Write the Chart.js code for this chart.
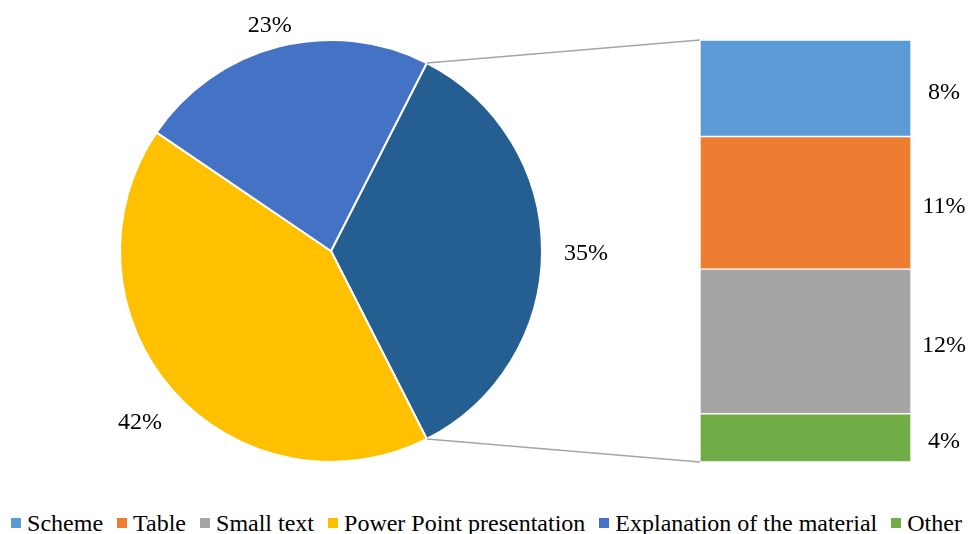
<!DOCTYPE html>
<html>
<head>
<meta charset="utf-8">
<script src="https://cdn.jsdelivr.net/npm/chart.js@4/dist/chart.umd.min.js"></script>
<style>
  html, body { margin: 0; padding: 0; background: #fff; }
  #wrap { position: relative; width: 973px; height: 534px; overflow: hidden;
          font-family: "Liberation Serif", "Times New Roman", serif; }
  #pie { position: absolute; left: 0; top: 0; }
  #bar { position: absolute; left: 700px; top: 40px; }
  #legend { position: absolute; left: 0; top: 508px; width: 973px; display: flex;
            justify-content: center; align-items: center; gap: 14px;
            font-size: 24px; line-height: 30px; color: #000; white-space: nowrap; }
  #legend .item { display: flex; align-items: center; }
  #legend .sw { display: inline-block; width: 10px; height: 10px; margin-right: 6px; }
</style>
</head>
<body>
<div id="wrap">
  <canvas id="pie" width="973" height="500"></canvas>
  <canvas id="bar" width="273" height="423"></canvas>
  <div id="legend"></div>
</div>
<script>
// Main pie categories (the split slice gathers the detail categories shown in the bar)
const pieLabels = ['Power Point presentation', 'Explanation of the material'];
const pieValues = [42, 23];
const pieColors = ['#FFC000', '#4472C4'];
const splitColor = '#255E91';

// Detail categories, top to bottom in the bar
const barLabels = ['Scheme', 'Table', 'Small text', 'Other'];
const barValues = [8, 11, 12, 4];
const barColors = ['#5B9BD5', '#ED7D31', '#A5A5A5', '#70AD47'];

// Legend order
const legendOrder = ['Scheme', 'Table', 'Small text', 'Power Point presentation', 'Explanation of the material', 'Other'];

const FONT = '"Liberation Serif", "Times New Roman", serif';
const LABEL_SIZE = 24;

const splitValue = barValues.reduce((a, b) => a + b, 0);
const pieAll = [splitValue, ...pieValues];
const pieTotal = pieAll.reduce((a, b) => a + b, 0);
// Split slice centred on the 3 o'clock direction
const pieRotation = 90 - (splitValue / pieTotal) * 360 / 2;

// ---------- stacked bar ----------
const barLabelPlugin = {
  id: 'barLabels',
  afterDatasetsDraw(chart) {
    const ctx = chart.ctx;
    const area = chart.chartArea;
    ctx.save();
    ctx.font = LABEL_SIZE + 'px ' + FONT;
    ctx.fillStyle = '#000';
    ctx.textAlign = 'center';
    ctx.textBaseline = 'middle';
    chart.data.datasets.forEach((ds, i) => {
      const el = chart.getDatasetMeta(i).data[0];
      const cy = (el.y + el.base) / 2;
      ctx.fillText(ds.data[0] + '%', area.right + 33, cy + 4);
    });
    ctx.restore();
  }
};

// Chart.js stacks the first dataset at the bottom, so feed them bottom-up
const barDatasets = barLabels.map((lab, i) => ({
  label: lab,
  data: [barValues[i]],
  backgroundColor: barColors[i],
  borderColor: '#ffffff',
  borderWidth: 1,
  borderSkipped: false,
  barPercentage: 1,
  categoryPercentage: 1
})).reverse();

const barChart = new Chart(document.getElementById('bar'), {
  type: 'bar',
  data: { labels: [''], datasets: barDatasets },
  options: {
    responsive: false,
    animation: false,
    devicePixelRatio: 1,
    layout: { padding: { left: 0, top: 0, right: 62, bottom: 1 } },
    plugins: { legend: { display: false }, tooltip: { enabled: false } },
    scales: {
      x: { stacked: true, display: false },
      y: { stacked: true, display: false, min: 0, max: splitValue }
    }
  },
  plugins: [barLabelPlugin]
});

// ---------- pie with labels and connector lines ----------
const pieDecorPlugin = {
  id: 'pieDecor',
  afterDatasetsDraw(chart) {
    const ctx = chart.ctx;
    const arcs = chart.getDatasetMeta(0).data;
    ctx.save();
    // connector lines from the split slice to the bar
    const a0 = arcs[0];
    const barCanvas = barChart.canvas;
    const offX = barCanvas.offsetLeft - chart.canvas.offsetLeft;
    const offY = barCanvas.offsetTop - chart.canvas.offsetTop;
    const metas = barChart.data.datasets.map((d, i) => barChart.getDatasetMeta(i).data[0]);
    const topEl = metas[metas.length - 1];
    const botEl = metas[0];
    const barLeft = offX + topEl.x - topEl.width / 2;
    const barTop = offY + Math.min(topEl.y, topEl.base);
    const barBottom = offY + Math.max(botEl.y, botEl.base);
    ctx.strokeStyle = '#A5A5A5';
    ctx.lineWidth = 1.5;
    ctx.beginPath();
    ctx.moveTo(a0.x + a0.outerRadius * Math.cos(a0.startAngle), a0.y + a0.outerRadius * Math.sin(a0.startAngle));
    ctx.lineTo(barLeft, barTop);
    ctx.moveTo(a0.x + a0.outerRadius * Math.cos(a0.endAngle), a0.y + a0.outerRadius * Math.sin(a0.endAngle));
    ctx.lineTo(barLeft, barBottom);
    ctx.stroke();

    // outside-end percentage labels
    ctx.font = LABEL_SIZE + 'px ' + FONT;
    ctx.fillStyle = '#000';
    ctx.textAlign = 'center';
    ctx.textBaseline = 'middle';
    arcs.forEach((arc, i) => {
      const text = chart.data.datasets[0].data[i] + '%';
      const w = ctx.measureText(text).width;
      const h = 16;
      const mid = (arc.startAngle + arc.endAngle) / 2;
      const c = Math.cos(mid), s = Math.sin(mid);
      const ext = Math.abs(c) * w / 2 + Math.abs(s) * h / 2;
      const r = arc.outerRadius + 22 + ext;
      const x = arc.x + r * c;
      const y = Math.max(arc.y + r * s, 23);
      ctx.fillText(text, x, y + 3);
    });
    ctx.restore();
  }
};

new Chart(document.getElementById('pie'), {
  type: 'pie',
  data: {
    labels: ['Split', ...pieLabels],
    datasets: [{
      data: pieAll,
      backgroundColor: [splitColor, ...pieColors],
      borderColor: '#ffffff',
      borderWidth: 2
    }]
  },
  options: {
    responsive: false,
    animation: false,
    devicePixelRatio: 1,
    rotation: pieRotation,
    layout: { padding: { left: 119, right: 430, top: 39, bottom: 37 } },
    plugins: { legend: { display: false }, tooltip: { enabled: false } }
  },
  plugins: [pieDecorPlugin]
});

// ---------- legend ----------
const colorOf = {};
barLabels.forEach((l, i) => colorOf[l] = barColors[i]);
pieLabels.forEach((l, i) => colorOf[l] = pieColors[i]);
const legendEl = document.getElementById('legend');
legendOrder.forEach(name => {
  const item = document.createElement('span');
  item.className = 'item';
  const sw = document.createElement('span');
  sw.className = 'sw';
  sw.style.background = colorOf[name];
  item.appendChild(sw);
  item.appendChild(document.createTextNode(name));
  legendEl.appendChild(item);
});
</script>
</body>
</html>
